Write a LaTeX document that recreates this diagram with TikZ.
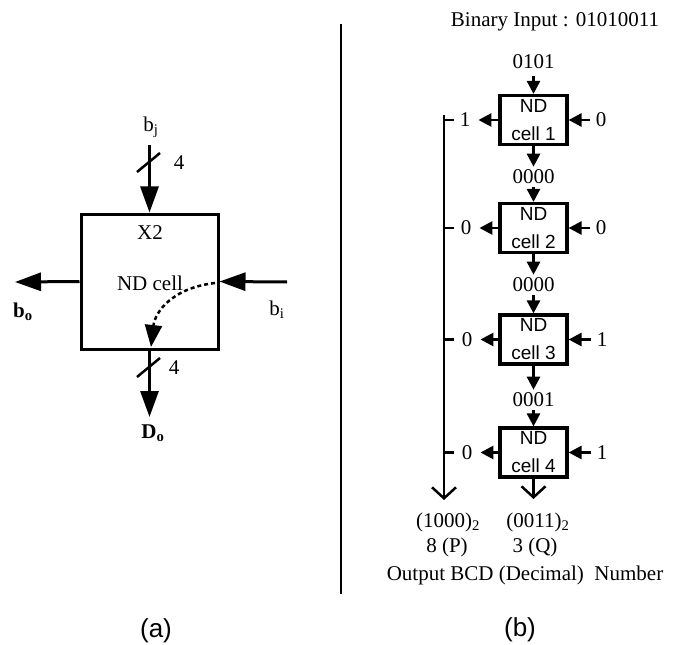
\documentclass[tikz,border=0pt]{standalone}
\usepackage{fontspec}
\setmainfont{Liberation Serif}
\setsansfont{Liberation Sans}
\usetikzlibrary{arrows.meta}
\begin{document}
\begin{tikzpicture}[x=1pt,y=-1pt,
  txt/.style={font=\fontsize{21}{24}\selectfont, inner sep=1pt},
  num/.style={font=\fontsize{21}{24}\selectfont, inner sep=3pt},
  lab/.style={font=\sffamily\fontsize{26}{30}\selectfont, inner sep=0pt},
  bigbox/.style={draw, line width=3pt, minimum width=137pt, minimum height=135pt, inner sep=0pt},
  ndbox/.style={draw, line width=3.2pt, minimum width=67pt, minimum height=49pt, inner sep=0pt, align=center, font=\sffamily\fontsize{19}{28}\selectfont},
  bigarr/.style={line width=3pt, -{Triangle[length=26pt,width=18pt]}},
  smarr/.style={line width=2.7pt, -{Triangle[length=13pt,width=13pt]}},
  openarr/.style={line width=2.5pt, -{Straight Barb[length=11pt,width=24pt]}},
  thin/.style={line width=2.5pt},
]
\useasboundingbox (0,0) rectangle (692,644);

% ---------- (a) ----------
\node[bigbox] (cell) at (149.5,281.5) {};
\node[txt] (x2) at (150,233) {X2};
\node[txt] (ndc) at (150,283) {ND cell};
\node[txt] (bj) at (151,127) {b\textsubscript{j}};
\node[txt] (four1) at (179,163) {4};
\node[txt] (four2) at (174,368) {4};
\node[txt] (bo) at (23,312) {\textbf{b\textsubscript{o}}};
\node[txt] (bi) at (277,310) {b\textsubscript{i}};
\node[txt] (Do) at (153,433) {\textbf{D\textsubscript{o}}};
\coordinate (bjstart) at (149.5,145);
\coordinate (boend) at (15,282);
\coordinate (bistart) at (287,282);
\coordinate (doend) at (149.5,417);

\draw[bigarr] (bjstart) -- (cell.north);
\draw[bigarr] (cell.west) -- (boend);
\draw[bigarr] (bistart) -- (cell.east);
\draw[bigarr] (cell.south) -- (doend);
\draw[thin] (137,172) -- (160,153);
\draw[thin] (137,377) -- (160,358);
\draw[line width=2.5pt, dash pattern=on 4pt off 3pt, -{Triangle[length=22pt,width=17pt]}]
  (215,283) .. controls (172,288) and (155,312) .. (151,347);

% divider
\draw[line width=2pt] (341,24) -- (341,594);

% ---------- (b) ----------
\node[txt] (bin) at (555,22) {Binary Input : 01010011};
\node[num] (in1) at (533.5,62) {0101};
\node[ndbox] (c1) at (533.5,120) {ND\\cell 1};
\node[num] (m1) at (533.5,177) {0000};
\node[ndbox] (c2) at (533.5,228) {ND\\cell 2};
\node[num] (m2) at (533.5,285) {0000};
\node[ndbox] (c3) at (533.5,339.5) {ND\\cell 3};
\node[num] (m3) at (533.5,400) {0001};
\node[ndbox] (c4) at (533.5,452.5) {ND\\cell 4};

\draw[smarr, shorten <=4pt] (in1) -- (c1);
\draw[smarr] (c1) -- (m1);
\draw[smarr] (m1) -- (c2);
\draw[smarr] (c2) -- (m2);
\draw[smarr] (m2) -- (c3);
\draw[smarr] (c3) -- (m3);
\draw[smarr] (m3) -- (c4);

% side labels
\node[num, inner sep=1pt] (l1) at (465,120) {1};
\node[num, inner sep=1pt] (l2) at (466,228) {0};
\node[num, inner sep=1pt] (l3) at (467,339.5) {0};
\node[num, inner sep=1pt] (l4) at (467,452.5) {0};
\node[num, inner sep=1pt] (r1) at (601,120) {0};
\node[num, inner sep=1pt] (r2) at (601,228) {0};
\node[num, inner sep=1pt] (r3) at (602,339.5) {1};
\node[num, inner sep=1pt] (r4) at (602,452.5) {1};

\draw[smarr, shorten >=7pt] (c1.west) -- (l1);
\draw[smarr, shorten >=7pt] (c2.west) -- (l2);
\draw[smarr, shorten >=7pt] (c3.west) -- (l3);
\draw[smarr, shorten >=7pt] (c4.west) -- (l4);
\draw[smarr, shorten <=5pt] (r1) -- (c1.east);
\draw[smarr, shorten <=5pt] (r2) -- (c2.east);
\draw[smarr, shorten <=5pt] (r3) -- (c3.east);
\draw[smarr, shorten <=5pt] (r4) -- (c4.east);

% bus
\coordinate (bustop) at (444,115);
\coordinate (busend) at (444,500);
\draw[openarr] (bustop) -- (busend);
\draw[thin] (bustop |- c1.west) -- ++(10,0);
\draw[thin] (bustop |- c2.west) -- ++(10,0);
\draw[thin] (bustop |- c3.west) -- ++(10,0);
\draw[thin] (bustop |- c4.west) -- ++(10,0);
\coordinate (qend) at (533.5,499);
\draw[openarr] (c4.south) -- (qend);

% outputs
\node[txt] (p2) at (448,522) {(1000)\textsubscript{2}};
\node[txt] (pd) at (447,547) {8 (P)};
\node[txt] (q2) at (538,522) {(0011)\textsubscript{2}};
\node[txt] (qd) at (535,547) {3 (Q)};
\node[txt] (out) at (525,575) {Output BCD (Decimal)~~Number};

\node[lab] (la) at (156,631) {(a)};
\node[lab] (lb) at (520,630) {(b)};
\end{tikzpicture}
\end{document}
